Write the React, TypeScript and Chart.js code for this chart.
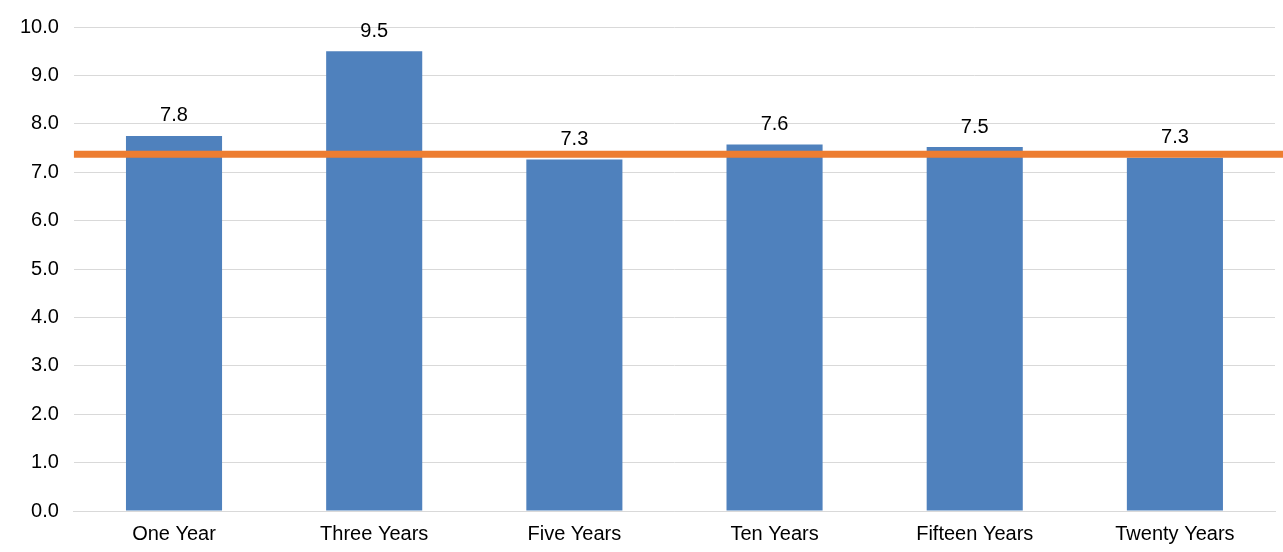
import React, { useEffect, useRef } from 'react';
import Chart from 'chart.js/auto';

const categories = ['One Year', 'Three Years', 'Five Years', 'Ten Years', 'Fifteen Years', 'Twenty Years'];
const values = [7.75, 9.5, 7.26, 7.57, 7.52, 7.3];
const benchmark = 7.37;

const App: React.FC = () => {
  const chartRef = useRef<HTMLCanvasElement | null>(null);

  useEffect(() => {
    const ctx = chartRef.current?.getContext('2d');
    if (!ctx) return;

    // bar value labels + orange benchmark line
    const overlay = {
      id: 'overlay',
      afterDatasetsDraw(chart: any) {
        const c = chart.ctx;
        const meta = chart.getDatasetMeta(0);
        c.save();
        c.fillStyle = '#000';
        c.font = '20px "Liberation Sans", Arial, sans-serif';
        c.textAlign = 'center';
        c.textBaseline = 'bottom';
        meta.data.forEach((bar: any, i: number) => {
          c.fillText(values[i].toFixed(1), bar.x, bar.y - 10);
        });
        const y = chart.scales.y.getPixelForValue(benchmark);
        c.strokeStyle = '#ed7d31';
        c.lineWidth = 7;
        c.beginPath();
        c.moveTo(chart.chartArea.left, y);
        c.lineTo(chart.width, y);
        c.stroke();
        c.restore();
      },
    };

    const chart = new Chart(ctx, {
      type: 'bar',
      data: {
        labels: categories,
        datasets: [{ data: values, backgroundColor: '#4f81bd', barPercentage: 0.48, categoryPercentage: 1 }],
      },
      options: {
        animation: false,
        responsive: false,
        layout: { padding: { top: -3, right: 8, left: 5, bottom: 3 } },
        plugins: { legend: { display: false }, tooltip: { enabled: false } },
        scales: {
          x: {
            grid: { display: false },
            border: { color: '#d9d9d9' },
            ticks: { color: '#000', padding: 3, font: { size: 20, family: '"Liberation Sans", Arial' } },
          },
          y: {
            min: 0,
            max: 10,
            ticks: { stepSize: 1, color: '#000', padding: 15, callback: (v: any) => Number(v).toFixed(1), font: { size: 20, family: '"Liberation Sans", Arial' } },
            grid: { color: '#d9d9d9', drawTicks: false },
            border: { display: false },
          },
        },
      },
      plugins: [overlay],
    });

    return () => chart.destroy();
  }, []);

  return (
    <div style={{ position: 'absolute', left: 0, top: 0, width: 1283, height: 552, background: '#fff' }}>
      <canvas ref={chartRef} width={1283} height={552} />
    </div>
  );
};

export default App;
